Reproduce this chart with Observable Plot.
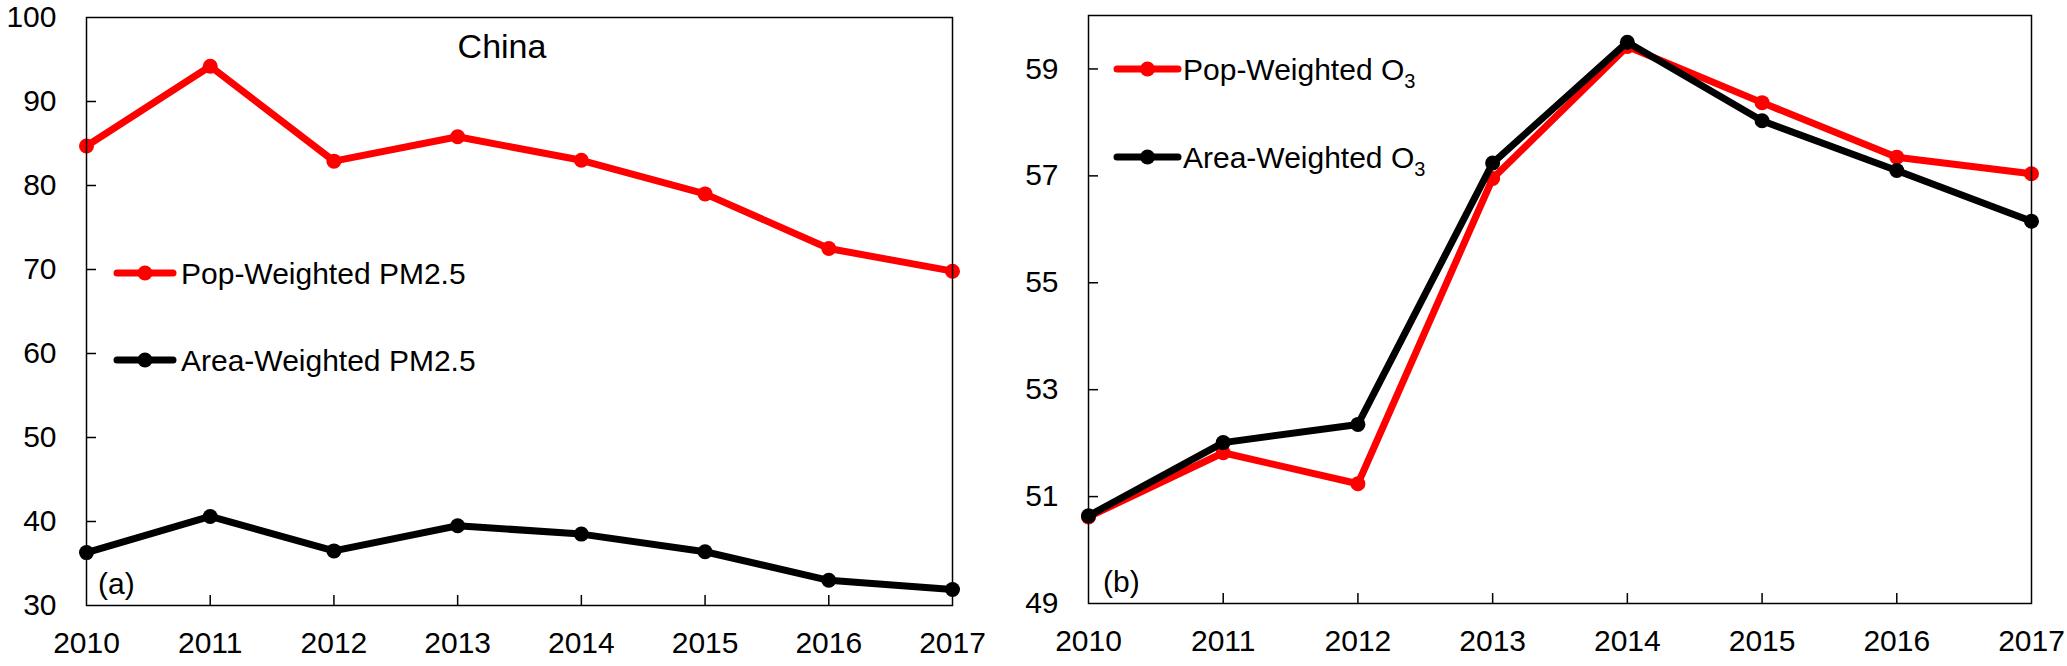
<!DOCTYPE html>
<html><head><meta charset="utf-8">
<script src="https://cdn.jsdelivr.net/npm/d3@7"></script>
<script src="https://cdn.jsdelivr.net/npm/@observablehq/plot@0.6"></script>
<style>
html,body{margin:0;padding:0;background:#fff;}
#wrap{display:flex;width:2067px;height:666px;overflow:hidden;}
#wrap svg{display:block;overflow:visible;}
</style></head><body><div id="wrap"></div>
<script>
const years = [2010, 2011, 2012, 2013, 2014, 2015, 2016, 2017];
const pm25Pop  = [84.7, 94.2, 82.9, 85.8, 83.0, 79.0, 72.5, 69.8];
const pm25Area = [36.3, 40.6, 36.5, 39.5, 38.5, 36.4, 33.0, 31.9];
const o3Pop  = [50.62, 51.82, 51.24, 56.95, 59.42, 58.37, 57.35, 57.04];
const o3Area = [50.64, 52.01, 52.35, 57.24, 59.50, 58.03, 57.10, 56.15];
const pmTicks = [30, 40, 50, 60, 70, 80, 90, 100];
const o3Ticks = [49, 51, 53, 55, 57, 59];
const pmDomain = [30, 100];
const o3Domain = [49, 60];
const innerYears = years.slice(1, -1);

const FONT = "'Liberation Sans', Arial, sans-serif";
const RED = "#ff0000", BLACK = "#000000";

function toRows(vals) { return years.map((y, i) => ({year: y, value: vals[i]})); }

function panel({width, height, mL, mR, mT, mB, yDomain, yTicks, series, legend, label, title}) {
  const pw = width - mL - mR, ph = height - mT - mB;
  const marks = [];
  for (const s of series) {
    const rows = toRows(s.values);
    marks.push(Plot.line(rows, {x: "year", y: "value", stroke: s.color, strokeWidth: 7, strokeLinejoin: "round"}));
    marks.push(Plot.dot(rows, {x: "year", y: "value", fill: s.color, r: 7.5, stroke: "none"}));
  }
  marks.push(Plot.tickY(yTicks.filter(t => t > yDomain[0] && t < yDomain[1]), {y: d => d, stroke: BLACK, strokeWidth: 1.5, insetRight: pw - 10}));
  marks.push(Plot.tickX(innerYears, {x: d => d, stroke: BLACK, strokeWidth: 1.5, insetTop: ph - 10}));
  marks.push(Plot.axisY(yTicks, {anchor: "left", label: null, tickSize: 0, tickPadding: 30, fontSize: 30, fill: BLACK, tickFormat: d => String(d)}));
  marks.push(Plot.axisX(years, {anchor: "bottom", label: null, tickSize: 0, tickPadding: 26, fontSize: 30, fill: BLACK, tickFormat: d => String(d)}));
  marks.push(Plot.frame({stroke: BLACK, strokeWidth: 1.5}));
  const svg = Plot.plot({
    width, height,
    marginLeft: mL, marginRight: mR, marginTop: mT, marginBottom: mB,
    style: {fontFamily: FONT, background: "#fff", color: BLACK, overflow: "visible"},
    x: {domain: [2010, 2017], axis: null},
    y: {domain: yDomain, axis: null},
    marks
  });
  const g = d3.select(svg).append("g").attr("font-family", FONT).attr("fill", BLACK).attr("text-anchor", "start");
  legend.items.forEach((it, i) => {
    const yy = legend.y[i];
    g.append("line").attr("x1", legend.x1).attr("x2", legend.x2).attr("y1", yy).attr("y2", yy)
      .attr("stroke", it.color).attr("stroke-width", 7).attr("stroke-linecap", "round");
    g.append("circle").attr("cx", (legend.x1 + legend.x2) / 2).attr("cy", yy).attr("r", 7.5).attr("fill", it.color);
    const t = g.append("text").attr("x", legend.tx).attr("y", yy).attr("dy", "0.35em").attr("font-size", 30).attr("text-anchor", "start");
    t.append("tspan").text(it.text);
    if (it.sub) t.append("tspan").attr("font-size", 20).attr("dy", 8).text(it.sub);
  });
  g.append("text").attr("x", label.x).attr("y", label.y).attr("dy", "0.35em").attr("font-size", 30).attr("text-anchor", "start").text(label.text);
  if (title) g.append("text").attr("x", title.x).attr("y", title.y).attr("dy", "0.35em").attr("text-anchor", "middle").attr("font-size", 34).text(title.text);
  return svg;
}

const wrap = document.getElementById("wrap");
wrap.appendChild(panel({
  width: 1030, height: 666, mL: 86, mR: 78, mT: 17, mB: 61,
  yDomain: pmDomain, yTicks: pmTicks,
  series: [{values: pm25Pop, color: RED}, {values: pm25Area, color: BLACK}],
  legend: {x1: 117, x2: 173, tx: 181, y: [273, 360], items: [
    {text: "Pop-Weighted PM2.5", color: RED}, {text: "Area-Weighted PM2.5", color: BLACK}]},
  label: {x: 98, y: 583, text: "(a)"},
  title: {x: 502, y: 46, text: "China"}
}));
wrap.appendChild(panel({
  width: 1037, height: 666, mL: 58, mR: 36, mT: 15, mB: 63,
  yDomain: o3Domain, yTicks: o3Ticks,
  series: [{values: o3Pop, color: RED}, {values: o3Area, color: BLACK}],
  legend: {x1: 1117 - 1030, x2: 1178 - 1030, tx: 1183 - 1030, y: [69, 157], items: [
    {text: "Pop-Weighted O", sub: "3", color: RED}, {text: "Area-Weighted O", sub: "3", color: BLACK}]},
  label: {x: 1103 - 1030, y: 581, text: "(b)"}
}));
</script></body></html>
